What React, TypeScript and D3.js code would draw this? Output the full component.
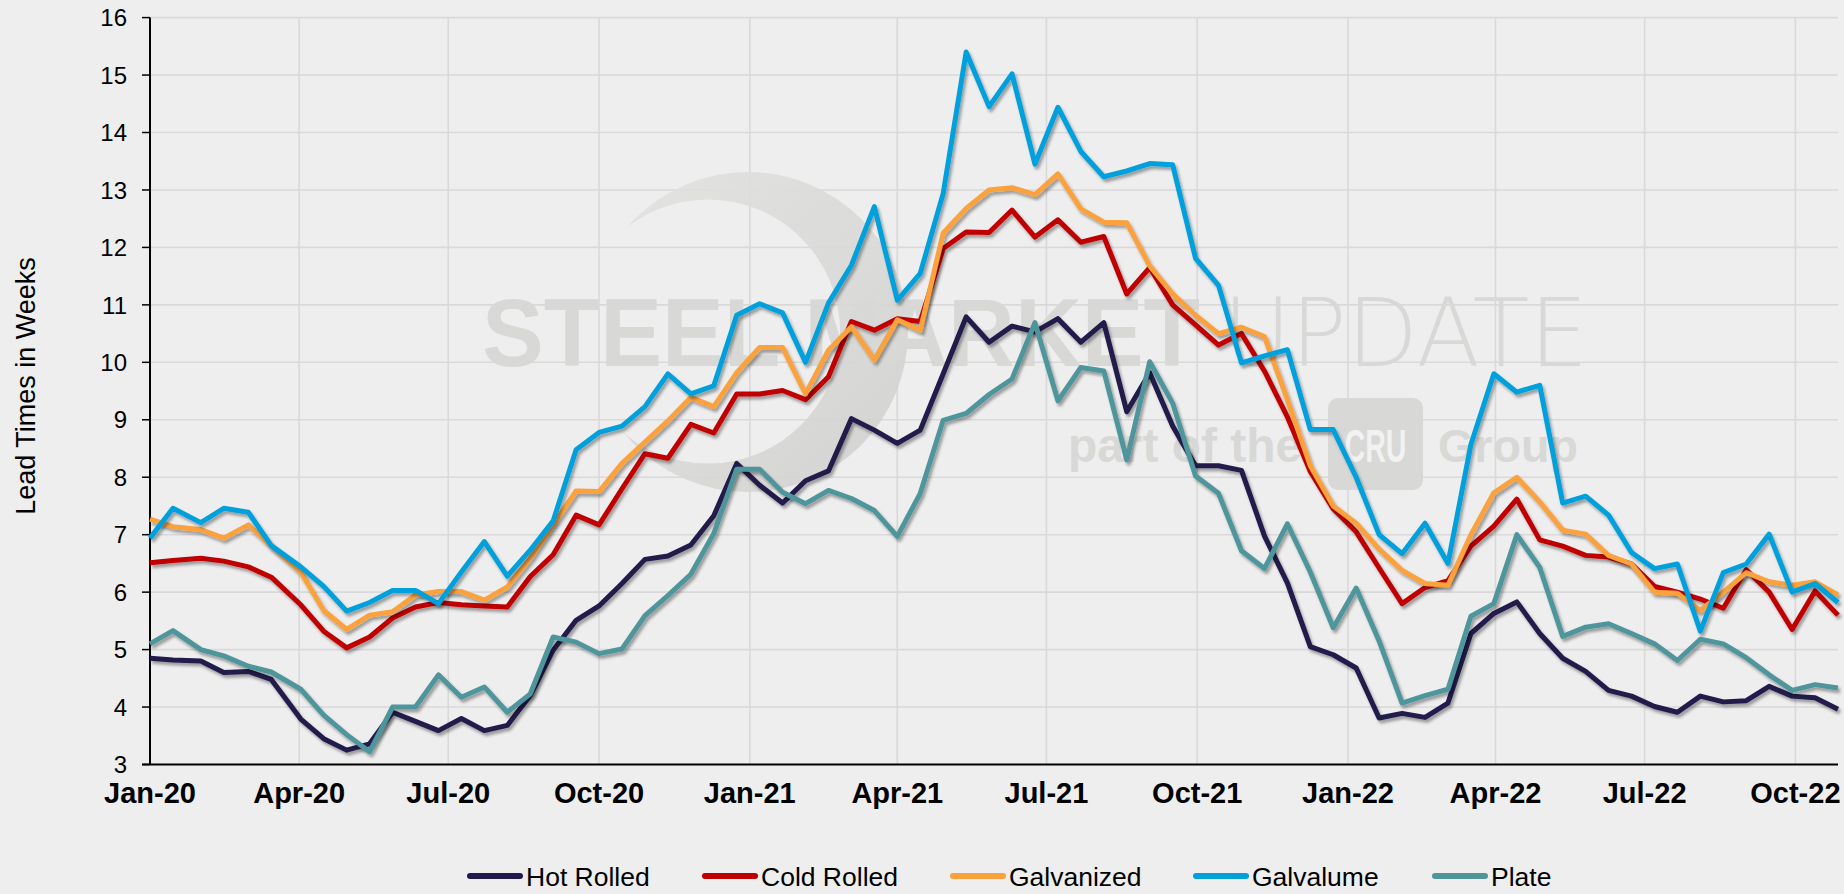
import React from "react";
import * as d3 from "d3";

const dates = [
  "2020-01-01","2020-01-15","2020-02-01","2020-02-15","2020-03-01","2020-03-15","2020-04-02","2020-04-16","2020-04-30","2020-05-14","2020-05-28",
  "2020-06-11","2020-06-25","2020-07-09","2020-07-23","2020-08-06","2020-08-20","2020-09-03","2020-09-17","2020-10-01",
  "2020-10-15","2020-10-29","2020-11-12","2020-11-26","2020-12-10","2020-12-24","2021-01-07","2021-01-21","2021-02-04",
  "2021-02-18","2021-03-04","2021-03-18","2021-04-01","2021-04-15","2021-04-29","2021-05-13","2021-05-27","2021-06-10",
  "2021-06-24","2021-07-08","2021-07-22","2021-08-05","2021-08-19","2021-09-02","2021-09-16","2021-09-30","2021-10-14","2021-10-28","2021-11-11","2021-11-25",
  "2021-12-09","2021-12-23","2022-01-06","2022-01-20","2022-02-03","2022-02-17","2022-03-03","2022-03-17","2022-03-31","2022-04-14","2022-04-28","2022-05-12","2022-05-26",
  "2022-06-09","2022-06-23","2022-07-07","2022-07-21","2022-08-04","2022-08-18","2022-09-01","2022-09-15","2022-09-29","2022-10-13","2022-10-27",
];

const hotRolled = [
  4.85, 4.82, 4.80, 4.60, 4.62, 4.48, 3.79, 3.45, 3.25, 3.36, 3.91,
  3.75, 3.59, 3.80, 3.59, 3.68, 4.20, 4.99, 5.51, 5.76,
  6.15, 6.57, 6.63, 6.82, 7.33, 8.24, 7.86, 7.55, 7.94,
  8.11, 9.02, 8.82, 8.59, 8.82, 9.80, 10.79, 10.35, 10.63,
  10.53, 10.76, 10.35, 10.69, 9.14, 9.82, 8.89, 8.20, 8.20, 8.12, 6.98, 6.16,
  5.05, 4.91, 4.68, 3.81, 3.89, 3.82, 4.07, 5.28, 5.63, 5.83, 5.28, 4.85, 4.62,
  4.29, 4.19, 4.01, 3.91, 4.19, 4.09, 4.11, 4.36, 4.19, 4.16, 3.96,
];

const coldRolled = [
  6.51, 6.55, 6.59, 6.54, 6.44, 6.26, 5.78, 5.32, 5.03, 5.22, 5.55,
  5.74, 5.82, 5.78, 5.76, 5.74, 6.27, 6.65, 7.34, 7.17,
  7.80, 8.41, 8.33, 8.92, 8.77, 9.45, 9.45, 9.51, 9.35,
  9.75, 10.71, 10.56, 10.76, 10.71, 11.98, 12.27, 12.26, 12.65,
  12.18, 12.48, 12.09, 12.19, 11.19, 11.65, 11.00, 10.65, 10.30, 10.50, 9.85, 9.05,
  8.10, 7.45, 7.05, 6.42, 5.80, 6.08, 6.20, 6.80, 7.15, 7.62, 6.91, 6.80, 6.64,
  6.61, 6.49, 6.10, 6.00, 5.88, 5.72, 6.39, 6.00, 5.35, 6.02, 5.60,
];

const galvanized = [
  7.27, 7.14, 7.09, 6.94, 7.17, 6.81, 6.35, 5.68, 5.35, 5.60, 5.66,
  5.95, 6.01, 6.01, 5.86, 6.09, 6.59, 7.17, 7.76, 7.75,
  8.24, 8.61, 8.98, 9.39, 9.23, 9.82, 10.26, 10.26, 9.45,
  10.21, 10.62, 10.04, 10.74, 10.56, 12.25, 12.68, 13.00, 13.04,
  12.92, 13.28, 12.67, 12.44, 12.43, 11.68, 11.19, 10.82, 10.50, 10.61, 10.45, 9.35,
  8.20, 7.50, 7.20, 6.75, 6.38, 6.15, 6.12, 7.00, 7.73, 8.00, 7.57, 7.08, 7.01,
  6.64, 6.49, 6.00, 5.98, 5.68, 6.00, 6.34, 6.18, 6.12, 6.18, 5.95,
];

const galvalume = [
  6.94, 7.46, 7.21, 7.46, 7.39, 6.81, 6.44, 6.10, 5.67, 5.82, 6.03,
  6.03, 5.80, 6.35, 6.88, 6.28, 6.73, 7.24, 8.48, 8.78,
  8.89, 9.23, 9.80, 9.45, 9.59, 10.82, 11.02, 10.86, 10.00,
  11.03, 11.69, 12.71, 11.08, 11.55, 12.94, 15.40, 14.45, 15.02,
  13.45, 14.44, 13.67, 13.23, 13.33, 13.46, 13.44, 11.81, 11.34, 9.99, 10.11, 10.22,
  8.83, 8.83, 8.00, 7.00, 6.67, 7.20, 6.50, 8.57, 9.80, 9.48, 9.60, 7.55, 7.67,
  7.34, 6.69, 6.41, 6.49, 5.32, 6.34, 6.49, 7.01, 6.00, 6.15, 5.82,
];

const plate = [
  5.10, 5.33, 5.00, 4.89, 4.71, 4.61, 4.31, 3.86, 3.52, 3.22, 4.00,
  4.00, 4.56, 4.17, 4.35, 3.91, 4.23, 5.22, 5.13, 4.93,
  5.01, 5.59, 5.94, 6.31, 7.02, 8.14, 8.14, 7.74, 7.54,
  7.77, 7.63, 7.42, 6.97, 7.72, 8.99, 9.11, 9.44, 9.71,
  10.69, 9.33, 9.91, 9.85, 8.30, 10.01, 9.29, 8.02, 7.72, 6.72, 6.41, 7.19,
  6.35, 5.38, 6.07, 5.15, 4.07, 4.20, 4.31, 5.58, 5.80, 7.00, 6.43, 5.23, 5.39,
  5.45, 5.28, 5.10, 4.81, 5.18, 5.10, 4.86, 4.56, 4.29, 4.39, 4.33,
];

const seriesNames = ["Hot Rolled", "Cold Rolled", "Galvanized", "Galvalume", "Plate"];
const seriesValues = [hotRolled, coldRolled, galvanized, galvalume, plate];
const seriesColors = ["#201a4c", "#c00000", "#fba13c", "#00a0dd", "#4f959c"];

const xTickDates = [
  "2020-01-01","2020-04-01","2020-07-01","2020-10-01",
  "2021-01-01","2021-04-01","2021-07-01","2021-10-01",
  "2022-01-01","2022-04-01","2022-07-01","2022-10-01",
];
const yTicks = [3, 4, 5, 6, 7, 8, 9, 10, 11, 12, 13, 14, 15, 16];

const W = 1844;
const H = 894;
const PL = 150, PR = 1838, PT = 17.6, PB = 764.5;
const FONT = "'Liberation Sans', Arial, Helvetica, sans-serif";
const legendX = [467, 702, 950, 1193, 1432];

export default function App() {
  const parse = d3.timeParse("%Y-%m-%d");
  const xDates = dates.map((d) => parse(d) as Date);
  const x = d3.scaleTime().domain([parse("2020-01-01") as Date, xDates[xDates.length - 1]]).range([PL, PR]);
  const y = d3.scaleLinear().domain([3, 16]).range([PB, PT]);
  const fmt = d3.timeFormat("%b-%y");

  const line = d3
    .line<number>()
    .x((_, i) => x(xDates[i]))
    .y((v) => y(v))
    .curve(d3.curveLinear);

  return (
    <div style={{ position: "fixed", left: 0, top: 0, width: W, height: H, background: "#eeeeee" }}>
      <svg width={W} height={H} style={{ display: "block" }}>
        <defs>
          <filter id="shadow" x="-5%" y="-5%" width="110%" height="115%">
            <feDropShadow dx="2" dy="3" stdDeviation="1.6" floodColor="#000" floodOpacity="0.35" />
          </filter>
          <linearGradient id="swooshGrad" x1="0" y1="0" x2="1" y2="1">
            <stop offset="0" stopColor="#e3e3e1" />
            <stop offset="0.6" stopColor="#d8d8d6" />
            <stop offset="1" stopColor="#d0d0ce" />
          </linearGradient>
          <mask id="swooshMask">
            <rect x={0} y={0} width={W} height={H} fill="#000" />
            <circle cx={748} cy={332} r={160} fill="#fff" />
            <circle cx={708} cy={331.5} r={132} fill="#000" />
          </mask>
        </defs>
        <rect x={0} y={0} width={W} height={H} fill="#eeeeee" />

        {/* gridlines */}
        {yTicks.filter((t) => t > 3).map((t) => (
          <line key={"gy" + t} x1={PL} x2={PR} y1={y(t)} y2={y(t)} stroke="#d9d9d9" strokeWidth={1.6} />
        ))}
        {xTickDates.slice(1).map((d) => {
          const xx = x(parse(d) as Date);
          return <line key={"gx" + d} x1={xx} x2={xx} y1={PT} y2={PB} stroke="#d9d9d9" strokeWidth={1.6} />;
        })}

        {/* watermark */}
        <g>
          <rect x={580} y={165} width={340} height={340} fill="url(#swooshGrad)" mask="url(#swooshMask)" opacity={0.9} />
          <text x={482} y={366} fontFamily={FONT} fontWeight={700} fontSize={97} fill="#d8d8d6" textLength={718} lengthAdjust="spacingAndGlyphs">
            STEEL MARKET
          </text>
          <text x={1223} y={366} fontFamily="'DejaVu Sans', sans-serif" fontWeight={200} fontSize={95} fill="#d8d8d6" textLength={365} lengthAdjust="spacingAndGlyphs">
            UPDATE
          </text>
          <text x={1068} y={462} fontFamily={FONT} fontWeight={700} fontSize={48} fill="#d8d8d6" textLength={234} lengthAdjust="spacingAndGlyphs">
            part of the
          </text>
          <rect x={1328} y={398} width={95} height={92} rx={10} fill="#d8d8d6" />
          <text x={1375.5} y={462} textAnchor="middle" fontFamily={FONT} fontWeight={700} fontSize={46} fill="#f2f2f2" textLength={62} lengthAdjust="spacingAndGlyphs">
            CRU
          </text>
          <text x={1438} y={462} fontFamily={FONT} fontWeight={700} fontSize={46} fill="#d8d8d6" textLength={140} lengthAdjust="spacingAndGlyphs">
            Group
          </text>
        </g>

        {/* axes */}
        <line x1={PL} x2={PL} y1={PT} y2={PB} stroke="#000" strokeWidth={2} />
        <line x1={PL - 8} x2={PR} y1={PB} y2={PB} stroke="#000" strokeWidth={2} />
        {yTicks.map((t) => (
          <g key={"yt" + t}>
            <line x1={PL - 8} x2={PL} y1={y(t)} y2={y(t)} stroke="#000" strokeWidth={1.5} />
            <text x={127} y={y(t)} dy="0.36em" textAnchor="end" fontFamily={FONT} fontSize={24} fill="#000">
              {t}
            </text>
          </g>
        ))}
        {xTickDates.map((d) => (
          <text key={"xt" + d} x={x(parse(d) as Date)} y={803} textAnchor="middle" fontFamily={FONT} fontWeight={700} fontSize={29} fill="#000">
            {fmt(parse(d) as Date)}
          </text>
        ))}
        <text transform="translate(35,386) rotate(-90)" textAnchor="middle" fontFamily={FONT} fontSize={27} fill="#000">
          Lead Times in Weeks
        </text>

        {/* series */}
        {seriesValues.map((vals, si) => (
          <path
            key={seriesNames[si]}
            d={line(vals) as string}
            fill="none"
            stroke={seriesColors[si]}
            strokeWidth={5}
            strokeLinejoin="round"
            filter="url(#shadow)"
          />
        ))}

        {/* legend */}
        {seriesNames.map((n, i) => (
          <g key={"lg" + n}>
            <line x1={legendX[i] + 3} x2={legendX[i] + 53} y1={876} y2={876} stroke={seriesColors[i]} strokeWidth={6} strokeLinecap="round" />
            <text x={legendX[i] + 59} y={876} dy="0.36em" fontFamily={FONT} fontSize={26.5} fill="#000">
              {n}
            </text>
          </g>
        ))}
      </svg>
    </div>
  );
}
